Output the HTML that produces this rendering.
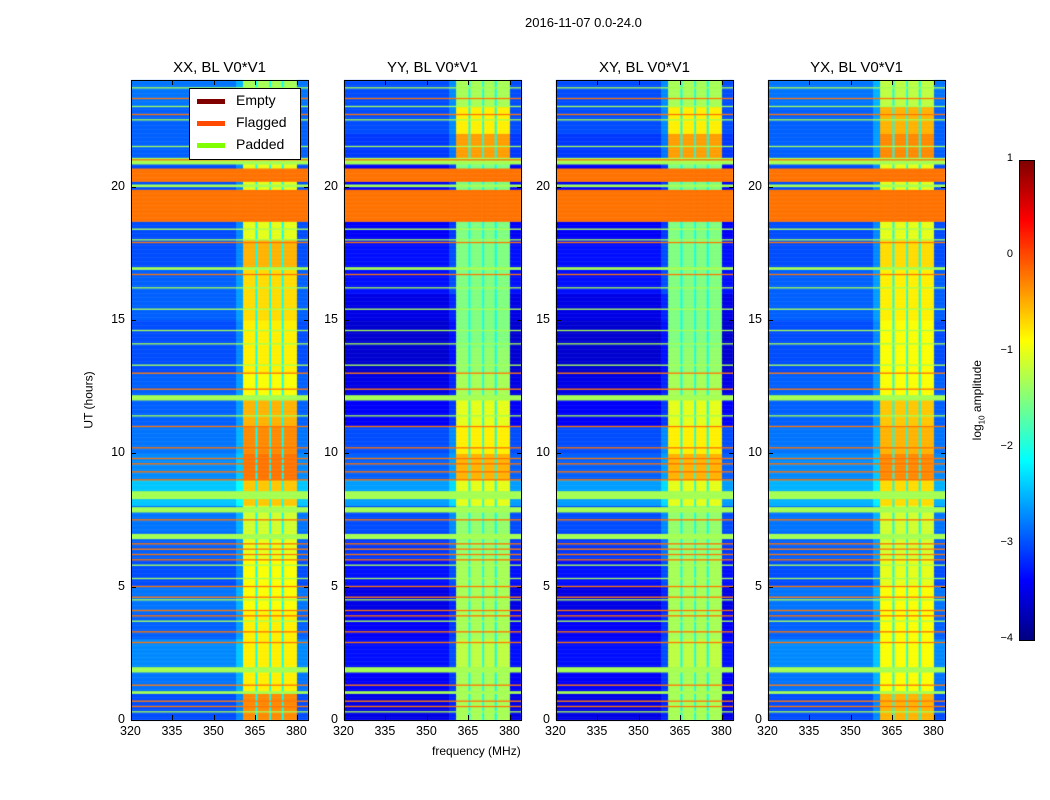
<!DOCTYPE html>
<html><head><meta charset="utf-8">
<style>
body{margin:0;background:#fff;font-family:"Liberation Sans",sans-serif;}
#wrap{position:relative;width:1050px;height:800px;overflow:hidden;background:#fff;}
.t{position:absolute;font-size:12.5px;color:#000;white-space:nowrap;}
.pt{position:absolute;font-size:15px;white-space:nowrap;transform:translateX(-50%);}
canvas{position:absolute;}
.frame{position:absolute;border:1px solid #000;box-sizing:border-box;}
.tk{position:absolute;background:#000;}
</style></head><body>
<div id="wrap">
<div class="t" style="left:525px;top:15px;font-size:13px">2016-11-07 0.0-24.0</div>
<div class="t" style="left:432px;top:744px;font-size:12px">frequency (MHz)</div>
<div class="t" style="left:60px;top:393px;transform:rotate(-90deg);font-size:12px">UT (hours)</div>
<div class="t" style="left:938px;top:392px;transform:rotate(-90deg);font-size:12px">log<sub style="font-size:8px">10</sub> amplitude</div>
</div>
<script>
// ---- data ----
const panelNames=["XX, BL V0*V1","YY, BL V0*V1","XY, BL V0*V1","YX, BL V0*V1"];
const freqTicks=[320,335,350,365,380];
const timeTicks=[0,5,10,15,20];
const cbTicks=[1,0,-1,-2,-3,-4];
// frequency bands: start MHz, end MHz, type
const bandStart=[320,358,360.5,365,365.7,370,370.6,374.5,375.2,380];
const bandEnd  =[358,360.5,365,365.7,370,370.6,374.5,375.2,380,384];
const bandType =["bg","edge","bright","gap","bright","gap","bright","gap","bright","bg"];
// flagged rows (hours start/end)
const flagStart=[0.5,0.7,1.3,2.9,3.3,3.9,4.1,4.6,5.0,6.0,6.2,6.4,6.6,7.5,9.0,9.3,9.6,9.8,10.2,11.0,12.4,13.0,16.7,17.9,18.7,20.2,21.0,22.7,23.3];
const flagEnd  =[0.55,0.75,1.35,2.95,3.35,3.95,4.15,4.65,5.05,6.05,6.25,6.45,6.65,7.55,9.05,9.35,9.65,9.85,10.25,11.05,12.45,13.05,16.75,17.95,19.9,20.7,21.05,22.75,23.35];
// padded rows
const padStart=[0.3,1.0,1.8,3.7,4.5,5.3,5.8,6.8,7.8,8.3,11.4,12.0,13.3,14.1,14.6,15.4,16.2,16.9,18.0,18.4,20.0,20.85,21.5,22.5,23.0,23.7];
const padEnd  =[0.35,1.1,2.0,3.75,4.55,5.35,5.85,7.0,8.0,8.6,11.45,12.2,13.35,14.15,14.65,15.45,16.25,17.0,18.05,18.45,20.1,21.1,21.55,22.55,23.05,23.75];
// per-hour background level (log10 amp) per panel
const bgXX=[-3.0,-2.8,-2.7,-2.9,-2.8,-3.0,-2.9,-2.8,-2.4,-2.7,-2.8,-2.9,-2.9,-3.0,-3.0,-2.9,-2.9,-3.0,-3.0,-3.0,-3.0,-2.9,-2.9,-2.8];
const bgYY=[-3.5,-3.4,-3.3,-3.4,-3.5,-3.3,-3.1,-3.0,-2.6,-2.9,-3.0,-3.4,-3.5,-3.6,-3.6,-3.5,-3.3,-3.3,-3.4,-3.4,-3.4,-3.1,-3.0,-3.0];
const bgXY=[-3.5,-3.4,-3.3,-3.4,-3.5,-3.3,-3.1,-3.0,-2.6,-2.9,-3.0,-3.4,-3.5,-3.6,-3.6,-3.5,-3.3,-3.3,-3.4,-3.4,-3.4,-3.1,-3.0,-3.0];
const bgYX=[-3.0,-2.8,-2.7,-2.9,-2.8,-3.0,-2.9,-2.8,-2.5,-2.7,-2.8,-2.9,-2.9,-3.0,-3.0,-2.9,-2.9,-3.0,-3.0,-3.0,-3.0,-2.9,-2.9,-2.8];
// per-hour bright-region level per panel
const brXX=[-0.3,-0.8,-0.8,-0.8,-0.9,-0.9,-1.0,-1.1,-0.6,-0.2,-0.3,-0.5,-0.9,-0.8,-0.8,-0.7,-0.7,-0.5,-1.0,-1.0,-1.0,-1.2,-1.2,-1.3];
const brYY=[-1.3,-1.3,-1.2,-1.3,-1.3,-1.3,-1.4,-1.4,-1.0,-0.5,-0.8,-1.0,-1.3,-1.4,-1.5,-1.5,-1.5,-1.5,-1.5,-1.5,-1.5,-0.4,-0.8,-1.3];
const brXY=[-1.3,-1.3,-1.2,-1.3,-1.3,-1.3,-1.4,-1.4,-1.0,-0.5,-0.8,-1.0,-1.3,-1.4,-1.5,-1.5,-1.5,-1.5,-1.5,-1.5,-1.5,-0.4,-0.8,-1.3];
const brYX=[-0.5,-0.9,-0.9,-0.9,-0.9,-1.0,-1.1,-1.1,-0.7,-0.3,-0.5,-0.6,-0.9,-0.9,-0.9,-0.8,-0.8,-0.7,-1.0,-1.0,-1.0,-0.3,-0.5,-1.2];
const bgLevels=[bgXX,bgYY,bgXY,bgYX];
const brLevels=[brXX,brYY,brXY,brYX];
// ---- layout ----
const panelLeft=[131,344,556,768];
const PW=177, PT=80, PH=640;
const fMin=320,fMax=384,tMin=0,tMax=24;
function xs(f,p){return panelLeft[p]+(f-fMin)/(fMax-fMin)*PW;}
function ys(t){return PT+PH-(t-tMin)/(tMax-tMin)*PH;}
function jet(v){
  let n=Math.max(0,Math.min(1,(v+4)/5));
  const c=x=>Math.round(255*Math.max(0,Math.min(1,x)));
  return "rgb("+c(1.5-Math.abs(4*n-3))+","+c(1.5-Math.abs(4*n-2))+","+c(1.5-Math.abs(4*n-1))+")";
}
function rowKind(t){
  for(let i=0;i<flagStart.length;i++) if(t>=flagStart[i]&&t<flagEnd[i]) return "flag";
  for(let i=0;i<padStart.length;i++) if(t>=padStart[i]&&t<padEnd[i]) return "pad";
  return "norm";
}
const wrap=document.getElementById('wrap');
function addText(txt,x,y,name,extra){
  const d=document.createElement('div');d.className='t';d.textContent=txt;
  d.style.left=x+'px';d.style.top=y+'px';if(extra)d.style.cssText+=extra;
  
  
  wrap.appendChild(d);return d;
}
function addTick(x,y,w,h){
  const d=document.createElement('div');d.className='tk';
  d.style.cssText+='left:'+x+'px;top:'+y+'px;width:'+w+'px;height:'+h+'px;';
  
  
  wrap.appendChild(d);
}
for(let p=0;p<4;p++){
  const cv=document.createElement('canvas');
  cv.width=1050;cv.height=800;cv.style.left='0px';cv.style.top='0px';
  
  
  wrap.appendChild(cv);
  const ctx=cv.getContext('2d');
  const dt=0.05;
  for(let t=0;t<tMax-1e-9;t+=dt){
    const y0=ys(t+dt),y1=ys(t);
    const kind=rowKind(t+dt/2);
    const h=Math.min(23,Math.floor(t));
    for(let b=0;b<bandStart.length;b++){
      let col;
      if(kind==="flag") col="#ff7300";
      else if(kind==="pad") col="#a4ff52";
      else{
        let v;
        const ty=bandType[b];
        if(ty==="bg") v=bgLevels[p][h];
        else if(ty==="edge") v=bgLevels[p][h]+0.3;
        else if(ty==="gap") v=-2.1;
        else v=brLevels[p][h];
        col=jet(v);
      }
      ctx.fillStyle=col;
      const xa=xs(bandStart[b],p),xb=xs(bandEnd[b],p);
      ctx.fillRect(xa,y0,xb-xa+0.5,y1-y0+0.5);
    }
  }
  const fr=document.createElement('div');fr.className='frame';
  fr.style.cssText+='left:'+(panelLeft[p])+'px;top:'+PT+'px;width:'+(PW+1)+'px;height:'+(PH+1)+'px;';
  
  
  wrap.appendChild(fr);
  const tt=document.createElement('div');tt.className='pt';tt.textContent=panelNames[p];
  tt.style.left=(panelLeft[p]+PW/2)+'px';tt.style.top='59px';
  
  
  wrap.appendChild(tt);
  for(const f of freqTicks){
    addText(String(f),xs(f,p)-11,724,'x-tick-label');
    addTick(Math.round(xs(f,p)),PT,1,5);
    addTick(Math.round(xs(f,p)),PT+PH-5,1,5);
  }
  for(const t of timeTicks){
    addText(String(t),panelLeft[p]-24,ys(t)-8,'y-tick-label','width:18px;text-align:right;');
    addTick(panelLeft[p],Math.round(ys(t)),5,1);
    addTick(panelLeft[p]+PW-4,Math.round(ys(t)),5,1);
  }
}
// legend
const lg=document.createElement('div');
lg.style.cssText='position:absolute;left:189px;top:88px;width:112px;height:72px;background:#fff;border:1px solid #000;box-sizing:border-box;font-size:14px;';


const legNames=["Empty","Flagged","Padded"],legCols=["#800000","#ff4a00","#80ff00"];
for(let i=0;i<3;i++){
  const e=document.createElement('div');
  e.style.cssText='position:absolute;left:7px;top:'+(1+i*22)+'px;height:20px;line-height:20px;';
  e.innerHTML='<span style="display:inline-block;width:28px;height:5px;background:'+legCols[i]+';vertical-align:middle;margin-right:11px"></span>'+legNames[i];
  
  
  lg.appendChild(e);
}
wrap.appendChild(lg);
// colorbar
const cb=document.createElement('canvas');cb.width=16;cb.height=480;
cb.style.left='1019px';cb.style.top='160px';


wrap.appendChild(cb);
const cctx=cb.getContext('2d');
for(let i=0;i<480;i++){cctx.fillStyle=jet(1-5*i/480);cctx.fillRect(0,i,16,1);}
const cbf=document.createElement('div');cbf.className='frame';
cbf.style.cssText+='left:1019px;top:160px;width:16px;height:481px;';


wrap.appendChild(cbf);
for(const v of cbTicks){
  const y=160+(1-v)/5*480;
  addText(v<0?'\u2212'+(-v):String(v),983,y-8,'colorbar-tick-label','width:30px;text-align:right;font-size:11px;');
}
</script>
</body></html>
